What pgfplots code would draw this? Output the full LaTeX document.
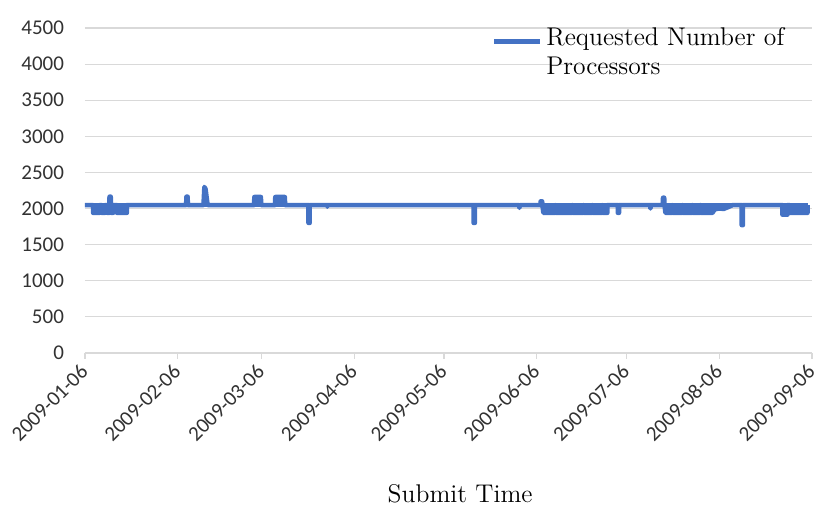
\documentclass[border=0pt]{standalone}
\usepackage{pgfplots}
\pgfplotsset{compat=1.18}
\usepackage{fontspec}
\newfontfamily\carlito{Carlito}
\definecolor{lineblue}{RGB}{68,114,196}
\definecolor{gridgray}{RGB}{217,217,217}
\definecolor{ticktext}{RGB}{50,50,50}

\begin{document}
\begin{tikzpicture}
\begin{axis}[
    at={(0,0)}, anchor=south west,
    scale only axis,
    width=363.5pt, height=162.5pt,
    xmin=0, xmax=243,
    ymin=0, ymax=4500,
    axis x line*=bottom, axis y line*=left,
    x axis line style={gridgray, line width=0.8pt},
    y axis line style={draw=none},
    ytick={0,500,...,4500},
    ytick style={draw=none},
    ymajorgrids,
    major grid style={gridgray, line width=0.6pt},
    xtick={0,31,59,90,120,151,181,212,243},
    xticklabels={2009-01-06,2009-02-06,2009-03-06,2009-04-06,2009-05-06,2009-06-06,2009-07-06,2009-08-06,2009-09-06},
    xtick style={gridgray, line width=0.6pt},
    tick align=outside,
    major tick length=3pt,
    /pgf/number format/assume math mode=true,
    /pgf/number format/set thousands separator={},
    yticklabel style={font=\carlito\fontsize{10.5}{12}\selectfont, text=ticktext, xshift=-4pt},
    xticklabel style={font=\carlito\fontsize{10.5}{12}\selectfont, text=ticktext, rotate=45, anchor=east, yshift=-3pt},
    xlabel={Submit Time},
    xlabel style={at={(axis description cs:0.516,-0.434)}, anchor=center, font=\fontsize{12.8}{15}\selectfont},
    legend style={at={(axis description cs:0.559,1.015)}, anchor=north west, draw=none, fill=none,
        font=\fontsize{12.8}{14.5}\selectfont, cells={align=left}, inner sep=0pt},
    legend image code/.code={\draw[#1, fill=none] (1pt,5.5pt) -- (24pt,5.5pt);},
]

% requested processors over submit time (days since 2009-01-06)
\addplot[lineblue, fill=lineblue, line width=2.25pt, line join=round] coordinates {
    (0,2048)
    (2.7,2048) (2.7,1940) (4.9,1940) (4.9,2048)
    (5.6,2048) (5.6,1940) (6.7,1940) (6.7,2048)
    (7.4,2048) (7.4,1940) (8.1,1940) (8.1,2048)
    (8.2,2165) (8.6,2165) (8.7,2048)
    (8.8,1940) (9.4,1940) (9.4,2048)
    (10.7,2048) (10.7,1940) (14.0,1940) (14.0,2048)
    (33.8,2048) (33.9,2165) (34.3,2165) (34.4,2048)
    (39.6,2048) (39.9,2300) (40.3,2270) (41.0,2048)
    (56.5,2048) (56.6,2160) (58.8,2160) (58.9,2048)
    (63.5,2048) (63.6,2160) (66.8,2160) (66.9,2048)
    (74.7,2048) (74.7,1800) (75.1,1800) (75.1,2048)
    (80.9,2048) (81.0,2025) (81.1,2048)
    (129.9,2048) (129.9,1800) (130.3,1800) (130.3,2048)
    (145.0,2048) (145.2,2010) (145.4,2048)
    (152.2,2048) (152.3,2100) (152.8,2100) (152.9,2048)
    (153.2,1940) (157.0,1940) (157.2,2048) (157.4,1940) (162.7,1940) (162.9,2048)
    (163.1,1940) (166.4,1940) (166.6,2048) (166.8,1940) (169.4,1940) (169.6,2048)
    (169.8,1940) (172.7,1940) (172.9,2048) (173.1,1940) (174.6,1940) (174.6,2048)
    (178.1,2048) (178.1,1940) (178.5,1940) (178.5,2048)
    (188.9,2048) (189.0,2000) (189.2,2048)
    (193.1,2048) (193.2,2150) (193.6,2150) (193.7,2048)
    (194.0,1940) (196.1,1940) (196.3,2048) (196.5,1940) (199.5,1940) (199.7,2048)
    (199.9,1940) (202.8,1940) (203.0,2048) (203.2,1940) (205.5,1940) (205.7,2048)
    (205.9,1940) (209.7,1940)
    (210.5,1990) (212.0,2000) (213.5,1995) (215.0,2020) (216.5,2048)
    (219.5,2048) (219.5,1770) (219.9,1770) (219.9,2048)
    (233.1,2048) (233.1,1915) (234.8,1915) (234.8,2048)
    (235.5,2048) (235.5,1940) (241.5,1940) (241.5,2048)
};
\addlegendentry{Requested Number of\\Processors}
% base level 2048, drawn over the dips so that their tops stay flat
\addplot[lineblue, line width=2.25pt, forget plot] coordinates {(0,2048) (241.5,2048)};

\end{axis}
\pgfresetboundingbox
\path (-42.5pt,-87.5pt) rectangle (368.5pt,176.5pt);
\end{tikzpicture}
\end{document}
